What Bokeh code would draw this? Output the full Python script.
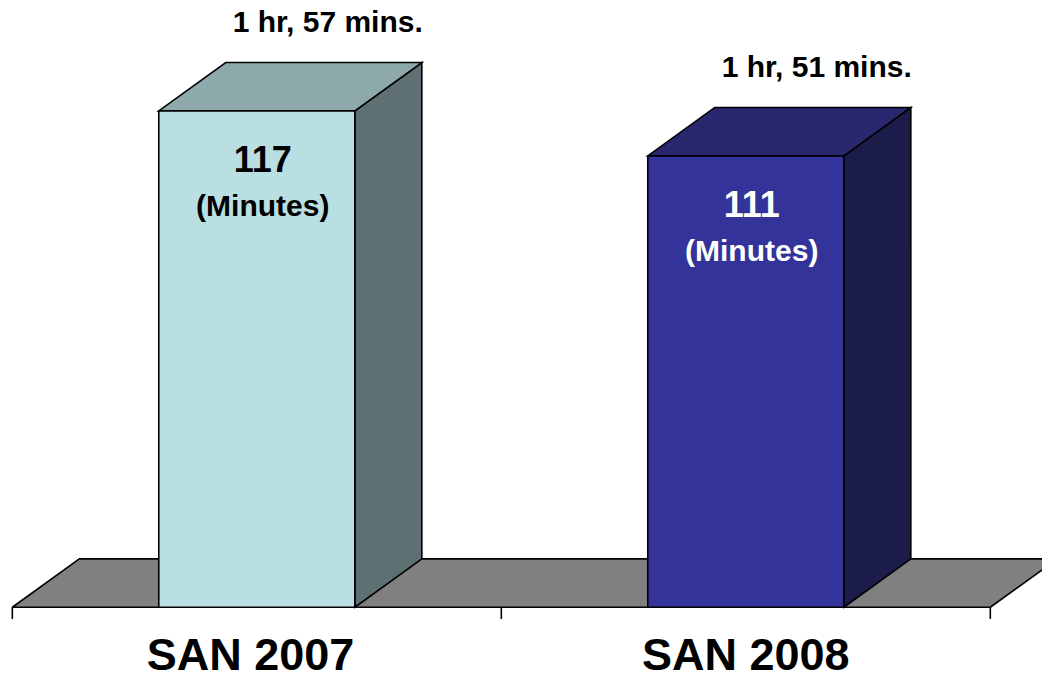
from bokeh.plotting import figure
from bokeh.models import Range1d, ColumnDataSource
from bokeh.core.properties import value
from bokeh.embed import file_html
from bokeh.resources import INLINE

# ---------------- data ----------------
categories = ["SAN  2007", "SAN 2008"]
minutes = [117, 111]
duration_labels = ["1 hr, 57 mins.", "1 hr, 51 mins."]
minute_labels = ["117", "111"]
unit_labels = ["(Minutes)", "(Minutes)"]

# ---------------- styles ----------------
front_colors = ["#B9DFE2", "#343399"]
top_colors = ["#8EA9AB", "#29286F"]
side_colors = ["#5E7071", "#1C1C4B"]
inner_text_colors = ["black", "white"]
FONT = value("Liberation Sans")

# ---------------- scales ----------------
W, H = 1042, 681
REF_W, REF_H = 1058, 697
SX, SY = W / REF_W, H / REF_H
PXX = 496.5          # reference px per category unit
PXY = 7.667          # reference px per minute
FLOOR = 50.74        # value axis minimum (floor level)
X_START = -12 / PXX
Y_END = FLOOR + 621 / PXY


def ux(px):
    return px / PXX


def uy(px):
    return px / PXY


def base_fix(fs):
    # compensation for svg alphabetic baseline placement (figure px -> data units)
    return 0.28 * fs / (PXY * SY)


DX = ux(68)
DY = uy(49.5)
BW = 0.401
n = len(categories)
centers = [i + 0.5 for i in range(n)]

p = figure(width=W, height=H, output_backend="svg", toolbar_location=None,
           x_range=Range1d(X_START, X_START + REF_W / PXX),
           y_range=Range1d(Y_END - REF_H / PXY, Y_END),
           x_axis_type=None, y_axis_type=None, min_border=0)
p.grid.visible = False
p.outline_line_color = None
p.background_fill_color = "white"
p.border_fill_color = "white"

LW = 1.6

# floor
p.patch([0, n, n + DX, DX], [FLOOR, FLOOR, FLOOR + DY, FLOOR + DY],
        fill_color="#808080", line_color="black", line_width=LW)
# tick marks below floor front edge
p.segment(x0=list(range(n + 1)), y0=[FLOOR] * (n + 1),
          x1=list(range(n + 1)), y1=[FLOOR - uy(12)] * (n + 1),
          line_color="black", line_width=LW)

# bars
front_xs, front_ys, top_xs, top_ys, side_xs, side_ys = [], [], [], [], [], []
for c, v in zip(centers, minutes):
    l, r = c - BW / 2, c + BW / 2
    front_xs.append([l, r, r, l]); front_ys.append([FLOOR, FLOOR, v, v])
    top_xs.append([l, r, r + DX, l + DX]); top_ys.append([v, v, v + DY, v + DY])
    side_xs.append([r, r + DX, r + DX, r]); side_ys.append([FLOOR, FLOOR + DY, v + DY, v])

p.patches(side_xs, side_ys, fill_color=side_colors, line_color="black", line_width=LW, line_join="miter")
p.patches(top_xs, top_ys, fill_color=top_colors, line_color="black", line_width=LW, line_join="miter")
p.patches(front_xs, front_ys, fill_color=front_colors, line_color="black", line_width=LW, line_join="miter")

# duration labels above bars
FS_TOP = 30
p.text(x=[c + ux(72) for c in centers], y=[v + DY + uy(33) + base_fix(FS_TOP) for v in minutes],
       text=duration_labels, text_font=FONT, text_font_style="bold",
       text_font_size=f"{FS_TOP}px", text_align="center", text_baseline="alphabetic",
       text_color="black")

# inner labels
FS_NUM, FS_UNIT = 36, 30
src = ColumnDataSource(dict(
    x=[c + ux(6) for c in centers],
    y1=[v - uy(60) + base_fix(FS_NUM) for v in minutes],
    y2=[v - uy(105) + base_fix(FS_UNIT) for v in minutes],
    t1=minute_labels, t2=unit_labels, col=inner_text_colors))
p.text(x="x", y="y1", text="t1", source=src, text_font=FONT, text_font_style="bold",
       text_font_size=f"{FS_NUM}px", text_align="center", text_baseline="alphabetic",
       text_color="col")
p.text(x="x", y="y2", text="t2", source=src, text_font=FONT, text_font_style="bold",
       text_font_size=f"{FS_UNIT}px", text_align="center", text_baseline="alphabetic",
       text_color="col")

# category labels
FS_CAT = 45
p.text(x=centers, y=[FLOOR - uy(682 - 621) + base_fix(FS_CAT)] * n, text=categories, text_font=FONT,
       text_font_style="bold", text_font_size=f"{FS_CAT}px", text_align="center",
       text_baseline="alphabetic", text_color="black")

open("out.html", "w").write(file_html(p, INLINE))
